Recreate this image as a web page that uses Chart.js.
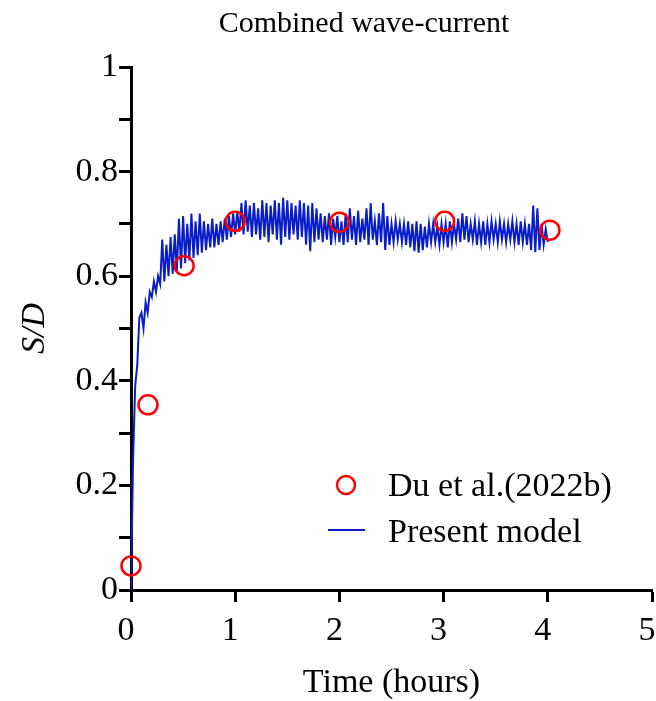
<!DOCTYPE html>
<html>
<head>
<meta charset="utf-8">
<script src="https://cdn.jsdelivr.net/npm/chart.js@4.4.1/dist/chart.umd.min.js"></script>
<style>
html, body { margin: 0; padding: 0; background: #ffffff; overflow: hidden; }
#wrap { position: relative; width: 656px; height: 701px; }
#c { display: block; }
</style>
</head>
<body>
<div id="wrap"><canvas id="c" width="656" height="701"></canvas></div>
<script>
// ---- text ----
const chartTitle = 'Combined wave-current';
const xAxisTitle = 'Time (hours)';
const yAxisTitle = 'S/D';
const experimentLabel = 'Du et al.(2022b)';
const modelLabel = 'Present model';

// ---- experimental points (Du et al. 2022b) ----
const experimentTimes  = [0.0, 0.163, 0.51, 1.0, 2.0, 3.01, 4.02];
const experimentValues = [0.046, 0.354, 0.62, 0.705, 0.703, 0.705, 0.688];

// ---- present model time series, sampled every 0.02 h from 0 h ----
const modelStartHours = 0;
const modelStepHours = 0.02;
const modelValues = [
  0.00, 0.25, 0.39, 0.43, 0.52,
  0.53, 0.50, 0.55, 0.53, 0.57,
  0.56, 0.59, 0.57, 0.60, 0.585,
  0.67, 0.59, 0.66, 0.60, 0.675,
  0.605, 0.68, 0.61, 0.71, 0.615,
  0.715, 0.625, 0.70, 0.63, 0.72,
  0.635, 0.705, 0.64, 0.72, 0.645,
  0.705, 0.65, 0.70, 0.655, 0.71,
  0.655, 0.70, 0.66, 0.705, 0.665,
  0.71, 0.67, 0.715, 0.675, 0.72,
  0.68, 0.725, 0.685, 0.74, 0.68,
  0.745, 0.685, 0.735, 0.675, 0.74,
  0.68, 0.73, 0.67, 0.745, 0.675,
  0.74, 0.665, 0.735, 0.68, 0.745,
  0.67, 0.74, 0.66, 0.75, 0.675,
  0.745, 0.67, 0.74, 0.68, 0.735,
  0.67, 0.745, 0.675, 0.74, 0.66,
  0.735, 0.648, 0.74, 0.665, 0.73,
  0.67, 0.72, 0.665, 0.715, 0.67,
  0.72, 0.66, 0.71, 0.675, 0.715,
  0.665, 0.705, 0.66, 0.72, 0.665,
  0.73, 0.67, 0.715, 0.66, 0.725,
  0.665, 0.71, 0.67, 0.73, 0.66,
  0.74, 0.67, 0.705, 0.66, 0.72,
  0.665, 0.74, 0.65, 0.715, 0.66,
  0.70, 0.665, 0.705, 0.67, 0.70,
  0.665, 0.70, 0.66, 0.705, 0.655,
  0.70, 0.648, 0.705, 0.645, 0.70,
  0.65, 0.695, 0.655, 0.70, 0.665,
  0.70, 0.665, 0.695, 0.66, 0.70,
  0.665, 0.70, 0.655, 0.705, 0.665,
  0.70, 0.67, 0.71, 0.665, 0.72,
  0.67, 0.715, 0.665, 0.70, 0.67,
  0.705, 0.66, 0.70, 0.665, 0.705,
  0.66, 0.70, 0.665, 0.705, 0.67,
  0.70, 0.665, 0.705, 0.67, 0.70,
  0.665, 0.70, 0.67, 0.705, 0.665,
  0.70, 0.66, 0.705, 0.665, 0.70,
  0.66, 0.70, 0.65, 0.735, 0.646,
  0.73, 0.65, 0.70, 0.66, 0.69,
  0.665
];

// ---- axes ----
const xMin = 0, xMax = 5, xStep = 1;
const yMin = 0, yMax = 1, yStep = 0.1;
const yTickLabels = ['0', '0.2', '0.4', '0.6', '0.8', '1'];

// ---- build datasets ----
const experimentPoints = experimentTimes.map((t, i) => ({ x: t, y: experimentValues[i] }));
const modelPoints = modelValues.map((v, i) => ({ x: modelStartHours + i * modelStepHours, y: v }));

const SERIF = "'Liberation Serif', 'Times New Roman', serif";
const RED = '#ff0000';
const BLUE = '#0a1ec8';
const ZERO_PAD = () => ({ left: 0, top: 0, right: 0, bottom: 0 });

const overlayPlugin = {
  id: 'overlayText',
  afterDraw(chart) {
    const ctx = chart.ctx;
    const a = chart.chartArea;
    ctx.save();
    // chart title
    ctx.fillStyle = '#000';
    ctx.font = '30px ' + SERIF;
    ctx.textAlign = 'center';
    ctx.textBaseline = 'alphabetic';
    ctx.fillText(chartTitle, a.left + 233, a.top - 35);
    // legend
    ctx.font = '34px ' + SERIF;
    ctx.textAlign = 'left';
    const cx = a.left + 215, cy = a.top + 418;
    ctx.beginPath();
    ctx.arc(cx, cy, 9, 0, Math.PI * 2);
    ctx.strokeStyle = RED;
    ctx.lineWidth = 2.5;
    ctx.stroke();
    ctx.fillText(experimentLabel, a.left + 257, a.top + 429);
    ctx.beginPath();
    ctx.moveTo(a.left + 197, a.top + 463);
    ctx.lineTo(a.left + 234, a.top + 463);
    ctx.strokeStyle = BLUE;
    ctx.lineWidth = 2;
    ctx.stroke();
    ctx.fillText(modelLabel, a.left + 257, a.top + 475);
    ctx.restore();
  }
};

new Chart(document.getElementById('c'), {
  type: 'scatter',
  data: {
    datasets: [
      {
        label: experimentLabel,
        data: experimentPoints,
        showLine: false,
        pointStyle: 'circle',
        pointRadius: 9.5,
        pointBorderWidth: 2.5,
        pointBorderColor: RED,
        pointBackgroundColor: 'rgba(0,0,0,0)',
        clip: false,
        order: 0
      },
      {
        label: modelLabel,
        data: modelPoints,
        showLine: true,
        borderColor: BLUE,
        borderWidth: 2,
        pointRadius: 0,
        tension: 0,
        order: 1
      }
    ]
  },
  options: {
    responsive: false,
    animation: false,
    devicePixelRatio: 1,
    layout: { autoPadding: false, padding: { left: 0, right: 4, top: 67, bottom: 0 } },
    plugins: {
      legend: { display: false },
      tooltip: { enabled: false },
      title: { display: false }
    },
    scales: {
      x: {
        type: 'linear',
        min: xMin, max: xMax,
        ticks: {
          stepSize: xStep,
          color: '#000',
          padding: 12,
          labelOffset: -5,
          maxRotation: 0,
          font: { family: SERIF, size: 34, lineHeight: 1 }
        },
        grid: { drawOnChartArea: false, drawTicks: true, tickLength: 12, tickWidth: 3, tickColor: '#000' },
        border: { display: true, color: '#000', width: 3 },
        title: {
          display: true, text: xAxisTitle, color: '#000',
          font: { family: SERIF, size: 34, lineHeight: 1 },
          padding: { top: 0, bottom: 1 }
        },
        afterFit(scale) {
          scale.height = 111;
          scale.paddingLeft = 0; scale.paddingRight = 0;
          scale.getPadding = ZERO_PAD;
        }
      },
      y: {
        type: 'linear',
        min: yMin, max: yMax,
        ticks: {
          stepSize: yStep,
          color: '#000',
          padding: 1,
          font: { family: SERIF, size: 34, lineHeight: 1 },
          callback: (value, index) => (index % 2 === 0 ? yTickLabels[index / 2] : '')
        },
        grid: { drawOnChartArea: false, drawTicks: true, tickLength: 12, tickWidth: 3, tickColor: '#000' },
        border: { display: true, color: '#000', width: 3 },
        title: {
          display: true, text: yAxisTitle, color: '#000',
          font: { family: SERIF, size: 34, style: 'italic', lineHeight: 1 },
          padding: { top: 18, bottom: 0 }
        },
        afterFit(scale) {
          scale.width = 131;
          scale.paddingTop = 0; scale.paddingBottom = 0;
          scale.getPadding = ZERO_PAD;
        }
      }
    }
  },
  plugins: [overlayPlugin]
});
</script>
</body>
</html>
